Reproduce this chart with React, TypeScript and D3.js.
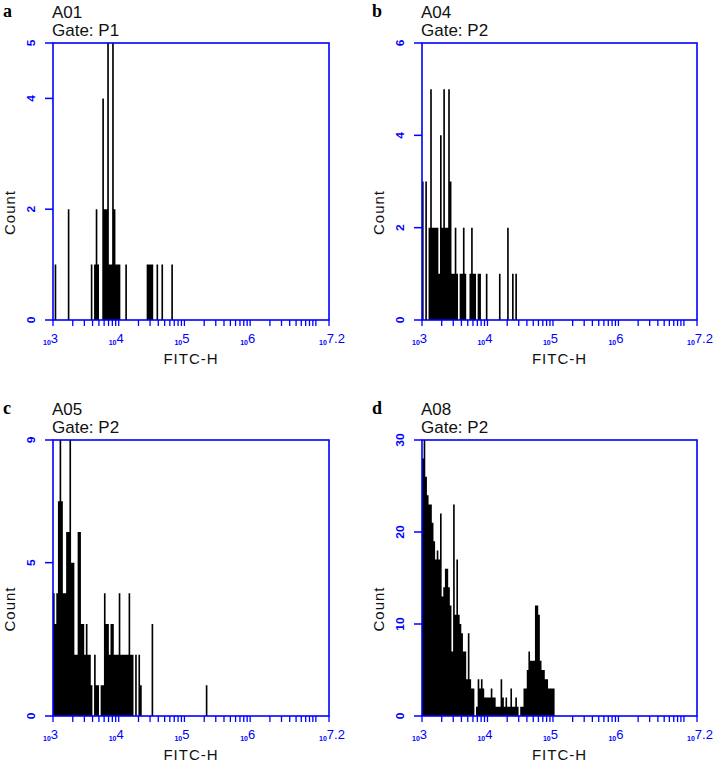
import * as d3 from 'd3';

// channel width of the histograms, in decades of FITC-H
const BIN_DECADES = 0.025;
const X_LOG_MIN = 3;
const X_LOG_MAX = 7.2;

const panelLetters = ['a', 'b', 'c', 'd'];
const sampleNames = ['A01', 'A04', 'A05', 'A08'];
const gateNames = ['P1', 'P2', 'P2', 'P2'];
const yMaxes = [5, 6, 9, 30];
const yTickValues = [
  [0, 2, 4, 5],
  [0, 2, 4, 6],
  [0, 5, 9],
  [0, 10, 20, 30],
];
const xTickLabelExps = ['3', '4', '5', '6', '7.2'];

// counts per channel, first channel starts at 10^3
const countsA01 = [
  0, 1, 0, 0, 0, 0, 0, 0, 0, 2,
  0, 0, 0, 0, 0, 0, 0, 0, 0, 0,
  0, 0, 0, 1, 0, 1, 2, 1, 0, 0,
  4, 2, 2, 5, 1, 1, 5, 2, 1, 1,
  1, 0, 0, 0, 1, 0, 0, 0, 0, 0,
  0, 0, 0, 0, 0, 0, 0, 1, 1, 1,
  1, 0, 0, 1, 0, 0, 1, 0, 0, 0,
  0, 0, 1,
];
const countsA04 = [
  3, 0, 3, 0, 2, 5, 2, 2, 2, 2,
  1, 4, 2, 5, 2, 2, 5, 3, 1, 1,
  2, 1, 0, 1, 1, 2, 1, 0, 0, 1,
  2, 1, 1, 0, 1, 1, 0, 0, 0, 1,
  0, 0, 0, 0, 0, 0, 0, 1, 0, 0,
  0, 0, 2, 0, 0, 1, 0, 1,
];
const countsA05 = [
  4, 3, 4, 7, 9, 7, 4, 4, 6, 6,
  9, 5, 5, 2, 2, 6, 6, 3, 3, 2,
  3, 2, 2, 1, 0, 2, 1, 1, 0, 1,
  1, 4, 3, 3, 2, 3, 3, 2, 2, 2,
  4, 2, 2, 2, 2, 2, 4, 2, 2, 0,
  2, 0, 2, 1, 0, 0, 0, 0, 0, 0,
  3, 0, 0, 0, 0, 0, 0, 0, 0, 0,
  0, 0, 0, 0, 0, 0, 0, 0, 0, 0,
  0, 0, 0, 0, 0, 0, 0, 0, 0, 0,
  0, 0, 0, 1,
];
const countsA08 = [
  28, 30, 26, 24, 23, 23, 21, 19, 17, 18,
  17, 22, 13, 14, 16, 16, 14, 12, 7, 23,
  11, 17, 11, 10, 9, 7, 7, 4, 9, 4,
  3, 3, 0, 1, 4, 3, 4, 3, 2, 2,
  2, 2, 3, 2, 2, 1, 1, 1, 4, 2,
  1, 2, 1, 1, 3, 1, 1, 2, 1, 0,
  1, 1, 3, 3, 5, 7, 6, 6, 6, 12,
  12, 11, 6, 5, 5, 4, 4, 3, 3, 3,
  3,
];
const allCounts = [countsA01, countsA04, countsA05, countsA08];

const frames = [
  { left: 53, top: 43, right: 329, bottom: 320 },
  { left: 422, top: 43, right: 697, bottom: 320 },
  { left: 53, top: 440, right: 329, bottom: 716 },
  { left: 422, top: 440, right: 697, bottom: 716 },
];

const BLUE = '#0000ff';
const SANS = 'Liberation Sans, Arial, sans-serif';

const Panel = ({ i }) => {
  const f = frames[i];
  const counts = allCounts[i];

  const x = d3
    .scaleLog()
    .domain([10 ** X_LOG_MIN, 10 ** X_LOG_MAX])
    .range([f.left, f.right]);
  const y = d3.scaleLinear().domain([0, yMaxes[i]]).range([f.bottom, f.top]);

  const pts = counts.map((c, k) => ({ v: 10 ** (X_LOG_MIN + k * BIN_DECADES), c }));
  pts.push({ v: 10 ** (X_LOG_MIN + counts.length * BIN_DECADES), c: 0 });

  const area = d3
    .area()
    .curve(d3.curveStepAfter)
    .x((d) => x(d.v))
    .y0(y(0))
    .y1((d) => y(d.c));

  // decade + minor ticks up to the end of the axis
  const xTicks = [];
  for (let dec = 3; dec <= 7; dec++) {
    for (let m = 1; m <= 9; m++) {
      const v = m * 10 ** dec;
      if (Math.log10(v) <= X_LOG_MAX + 1e-9) xTicks.push(v);
    }
  }
  xTicks.push(10 ** X_LOG_MAX);

  const midY = (f.top + f.bottom) / 2;

  return (
    <g>
      <text
        x={f.left - 50}
        y={f.top - 26.5}
        fontFamily="Liberation Serif, Times New Roman, serif"
        fontWeight="bold"
        fontSize={18}
      >
        {panelLetters[i]}
      </text>
      <text x={f.left - 1} y={f.top - 25.5} fontFamily={SANS} fontSize={17} fill="#111">
        {sampleNames[i]}
      </text>
      <text x={f.left - 1} y={f.top - 7} fontFamily={SANS} fontSize={17} fill="#111">
        {`Gate: ${gateNames[i]}`}
      </text>

      <path d={area(pts)} fill="#000" />

      {xTicks.map((v, k) => (
        <line
          key={k}
          x1={x(v)}
          x2={x(v)}
          y1={f.bottom}
          y2={f.bottom + 6}
          stroke={BLUE}
          strokeWidth={1.3}
        />
      ))}
      {xTickLabelExps.map((e) => (
        <text
          key={e}
          x={x(10 ** +e) - 10}
          y={f.bottom + 25}
          fill={BLUE}
          fontFamily={SANS}
        >
          <tspan fontSize={7} fontWeight="bold">
            10
          </tspan>
          <tspan fontSize={13} dy={-2}>
            {e}
          </tspan>
        </text>
      ))}

      {yTickValues[i].map((t) => (
        <g key={t}>
          <line
            x1={f.left - 8}
            x2={f.left}
            y1={y(t)}
            y2={y(t)}
            stroke={BLUE}
            strokeWidth={1.5}
          />
          <text
            transform={`translate(${f.left - 22},${y(t)}) rotate(-90) scale(1.2,1)`}
            textAnchor="middle"
            dominantBaseline="central"
            fill={BLUE}
            fontFamily={SANS}
            fontWeight="bold"
            fontSize={10}
          >
            {t}
          </text>
        </g>
      ))}

      <rect
        x={f.left}
        y={f.top}
        width={f.right - f.left}
        height={f.bottom - f.top}
        fill="none"
        stroke={BLUE}
        strokeWidth={1.6}
      />

      <text
        transform={`translate(${f.left - 44},${midY + 31}) rotate(-90)`}
        textAnchor="middle"
        dominantBaseline="central"
        fontFamily={SANS}
        fontSize={15}
        letterSpacing={1}
        fill="#111"
      >
        Count
      </text>
      <text
        x={(f.left + f.right) / 2}
        y={f.bottom + 44}
        textAnchor="middle"
        fontFamily={SANS}
        fontSize={15}
        letterSpacing={1}
        fill="#111"
      >
        FITC-H
      </text>
    </g>
  );
};

export default function App() {
  return (
    <svg
      width={714}
      height={764}
      style={{ position: 'absolute', left: 0, top: 0, background: '#fff' }}
    >
      {frames.map((_, i) => (
        <Panel key={i} i={i} />
      ))}
    </svg>
  );
}
